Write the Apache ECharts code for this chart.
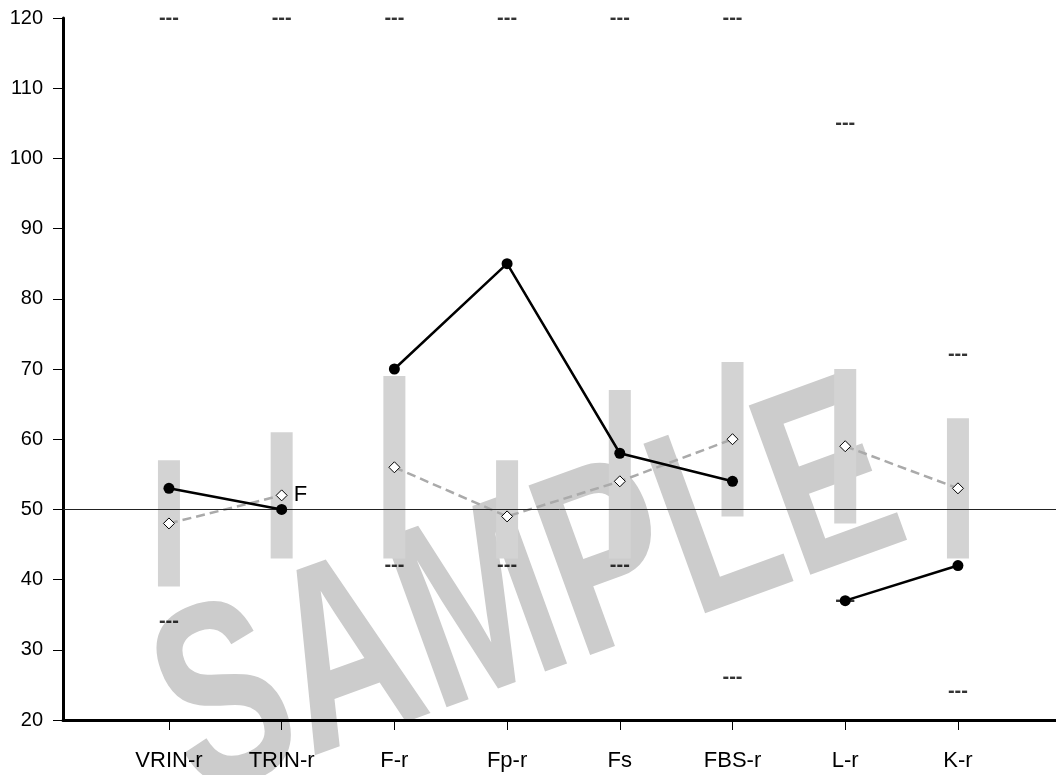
<!DOCTYPE html>
<html>
<head>
<meta charset="utf-8">
<style>html,body{margin:0;padding:0;background:#fff;}#chart{width:1056px;height:775px;}</style>
<script src="https://cdn.jsdelivr.net/npm/echarts@6/dist/echarts.min.js"></script>
</head>
<body>
<div id="chart"></div>
<script>
// ---- data ----
const categories = ['VRIN-r', 'TRIN-r', 'F-r', 'Fp-r', 'Fs', 'FBS-r', 'L-r', 'K-r'];
const rawScores = [53, 50, 70, 85, 58, 54, 37, 42];          // solid black line, filled dots
const compScores = [48, 52, 56, 49, 54, 60, 59, 53];         // dashed gray line, diamonds
const compLabels = ['', 'F', '', '', '', '', '', ''];
const rangeLow = [39, 43, 43, 43, 43, 49, 48, 43];           // gray range bars
const rangeHigh = [57, 61, 69, 57, 67, 71, 70, 63];
const upperMarks = [120, 120, 120, 120, 120, 120, 105, 72];  // "---" markers
const lowerMarks = [34, null, 42, 42, 42, 26, 37, 24];
const segments = [[0, 1], [2, 5], [6, 7]];                   // connected groups
const yTicks = [20, 30, 40, 50, 60, 70, 80, 90, 100, 110, 120];
const referenceValue = 50;

const FONT = '"Liberation Sans", Arial, Helvetica, sans-serif';
const xPos = categories.map((c, i) => i + 1);

const series = [];

// reference line
series.push({
  type: 'line', data: [], z: 1, silent: true,
  markLine: {
    silent: true, symbol: ['none', 'none'], label: { show: false },
    lineStyle: { color: '#222', width: 1, type: 'solid' },
    data: [{ yAxis: referenceValue }]
  }
});

// range bars
series.push({
  type: 'custom', z: 2, silent: true,
  data: xPos.map((x, i) => [x, rangeLow[i], rangeHigh[i]]),
  renderItem: function (params, api) {
    const lo = api.coord([api.value(0), api.value(1)]);
    const hi = api.coord([api.value(0), api.value(2)]);
    const w = 22;
    return {
      type: 'rect',
      shape: { x: lo[0] - w / 2, y: hi[1], width: w, height: lo[1] - hi[1] },
      style: { fill: '#d3d3d3' }
    };
  }
});

// dash markers
function markSeries(vals) {
  return {
    type: 'scatter', z: 3, silent: true, symbolSize: 1,
    itemStyle: { color: 'rgba(0,0,0,0)' },
    data: xPos.map((x, i) => vals[i] == null ? null : [x, vals[i]]).filter(d => d),
    label: {
      show: true, position: 'inside', formatter: '---',
      color: '#000', fontSize: 20, fontWeight: 'bold', fontFamily: FONT, offset: [0, 0]
    }
  };
}
series.push(markSeries(upperMarks));
series.push(markSeries(lowerMarks));

// dashed comparison line with diamonds
segments.forEach(([a, b]) => {
  const data = [];
  for (let i = a; i <= b; i++) {
    data.push({
      value: [xPos[i], compScores[i]],
      label: {
        show: !!compLabels[i], formatter: compLabels[i], position: 'right',
        distance: 6, color: '#000', fontSize: 22, fontFamily: FONT
      }
    });
  }
  series.push({
    type: 'line', z: 4, silent: true, data: data,
    symbol: 'diamond', symbolSize: 11, showAllSymbol: true,
    lineStyle: { color: '#aaaaaa', width: 2.5, type: [9, 5] },
    itemStyle: { color: '#fff', borderColor: '#000', borderWidth: 1 }
  });
});

// solid raw score line
segments.forEach(([a, b]) => {
  const data = [];
  for (let i = a; i <= b; i++) data.push([xPos[i], rawScores[i]]);
  series.push({
    type: 'line', z: 5, silent: true, data: data,
    symbol: 'circle', symbolSize: 11, showAllSymbol: true,
    lineStyle: { color: '#000', width: 2.5 },
    itemStyle: { color: '#000' }
  });
});

const chart = echarts.init(document.getElementById('chart'), null, { renderer: 'canvas' });
chart.setOption({
  animation: false,
  backgroundColor: '#fff',
  grid: { left: 63, right: 0, top: 18, bottom: 55, containLabel: false },
  xAxis: {
    type: 'value', min: 0.06, max: 8.87,
    splitLine: { show: false },
    axisLine: { show: true, onZero: false, lineStyle: { color: '#000', width: 3 } },
    axisTick: { show: true, customValues: xPos, length: 10, lineStyle: { color: '#000', width: 1 } },
    axisLabel: {
      show: true, customValues: xPos, margin: 30, color: '#000', fontSize: 22, fontFamily: FONT,
      formatter: v => categories[Math.round(v) - 1] || ''
    }
  },
  yAxis: {
    type: 'value', min: yTicks[0], max: yTicks[yTicks.length - 1], interval: 10,
    splitLine: { show: false },
    axisLine: { show: true, onZero: false, lineStyle: { color: '#000', width: 3 } },
    axisTick: { show: true, length: 10, lineStyle: { color: '#000', width: 1 } },
    axisLabel: { margin: 20, color: '#000', fontSize: 20, fontFamily: FONT }
  },
  graphic: [{
    type: 'text', z: -10, silent: true,
    x: 530, y: 600, rotation: 20 * Math.PI / 180, scaleX: 0.70, scaleY: 1,
    style: {
      text: 'SAMPLE', fill: '#cccccc',
      font: 'bold 262px "Liberation Sans", Arial, sans-serif',
      textAlign: 'center', textVerticalAlign: 'middle'
    }
  }],
  series: series
});
</script>
</body>
</html>
